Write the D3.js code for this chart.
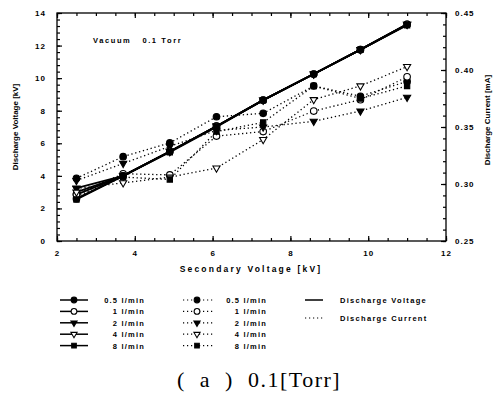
<!DOCTYPE html>
<html>
<head>
<meta charset="utf-8">
<script src="https://cdn.jsdelivr.net/npm/d3@7"></script>
<style>
body { margin: 0; background: #fff; }
svg text { font-family: "Liberation Sans", Arial, sans-serif; font-weight: bold; fill: #000; }
</style>
</head>
<body>
<div id="chart"></div>
<script>
// secondary voltage (x) and flow rates
var sec = [2.5, 3.7, 4.9, 6.1, 7.3, 8.6, 9.8, 11.0];
var flows = ["0.5 l/min", "1 l/min", "2 l/min", "4 l/min", "8 l/min"];
var markers = ["circle", "ocircle", "tri", "otri", "square"];

// discharge voltage [kV] per flow
var volt05 = [2.6, 4.0, 5.5, 7.05, 8.65, 10.25, 11.75, 13.3];
var volt1 = [2.85, 4.0, 5.5, 7.05, 8.65, 10.25, 11.75, 13.3];
var volt2 = [3.25, 4.0, 5.5, 7.05, 8.65, 10.25, 11.75, 13.3];
var volt4 = [3.0, 4.0, 5.5, 7.05, 8.65, 10.25, 11.75, 13.3];
var volt8 = [2.55, 4.0, 5.45, 7.0, 8.65, 10.25, 11.75, 13.25];

// discharge current [mA] per flow
var cur05 = [0.305, 0.324, 0.336, 0.359, 0.362, 0.386, 0.377, 0.390];
var cur1 = [0.291, 0.309, 0.308, 0.342, 0.346, 0.364, 0.374, 0.394];
var cur2 = [0.303, 0.318, 0.333, 0.347, 0.350, 0.355, 0.364, 0.376];
var cur4 = [0.296, 0.301, 0.306, 0.314, 0.339, 0.374, 0.386, 0.403];
var cur8 = [0.289, 0.306, 0.304, 0.346, 0.354, 0.386, 0.375, 0.386];

var xTicks = [2, 4, 6, 8, 10, 12];
var yTicks = [0, 2, 4, 6, 8, 10, 12, 14];
var cTicks = [0.25, 0.30, 0.35, 0.40, 0.45];

var volts = [volt05, volt1, volt2, volt4, volt8];
var curs = [cur05, cur1, cur2, cur4, cur8];

var svg = d3.select("#chart").append("svg")
  .attr("width", 500)
  .attr("height", 394);

var L = 57, R = 446, T = 13, B = 241;

var x = d3.scaleLinear().domain([2, 12]).range([L, R]);
var y = d3.scaleLinear().domain([0, 14]).range([B, T]);
var yc = d3.scaleLinear().domain([0.25, 0.45]).range([B, T]);

// frame
svg.append("rect")
  .attr("x", L).attr("y", T)
  .attr("width", R - L).attr("height", B - T)
  .attr("fill", "none").attr("stroke", "#000").attr("stroke-width", 1.3);

function styleAxis(g) {
  g.select(".domain").remove();
  g.selectAll("line").attr("stroke", "#000").attr("stroke-width", 1.2);
  g.selectAll("text").attr("font-size", 8).attr("letter-spacing", 1);
}

function range(a, b, s) {
  var out = [];
  for (var v = a; v <= b + 1e-9; v += s) out.push(+v.toFixed(4));
  return out;
}

// major axes
svg.append("g").attr("transform", "translate(" + L + ",0)")
  .call(d3.axisLeft(y).tickValues(yTicks).tickSizeInner(-5).tickSizeOuter(0).tickPadding(11).tickFormat(d3.format("d")))
  .call(styleAxis);
svg.append("g").attr("transform", "translate(" + R + ",0)")
  .call(d3.axisRight(yc).tickValues(cTicks).tickSizeInner(-5).tickSizeOuter(0).tickPadding(9).tickFormat(d3.format(".2f")))
  .call(styleAxis);
svg.append("g").attr("transform", "translate(0," + B + ")")
  .call(d3.axisBottom(x).tickValues(xTicks).tickSizeInner(-5).tickSizeOuter(0).tickPadding(9).tickFormat(d3.format("d")))
  .call(styleAxis);
svg.append("g").attr("transform", "translate(0," + T + ")")
  .call(d3.axisTop(x).tickValues(xTicks).tickSizeInner(-5).tickSizeOuter(0).tickFormat(""))
  .call(styleAxis);

// minor ticks
svg.append("g").attr("transform", "translate(" + L + ",0)")
  .call(d3.axisLeft(y).tickValues(range(0, 14, 0.4)).tickSizeInner(-3).tickSizeOuter(0).tickFormat(""))
  .call(styleAxis);
svg.append("g").attr("transform", "translate(" + R + ",0)")
  .call(d3.axisRight(yc).tickValues(range(0.25, 0.45, 0.01)).tickSizeInner(-3).tickSizeOuter(0).tickFormat(""))
  .call(styleAxis);
svg.append("g").attr("transform", "translate(0," + B + ")")
  .call(d3.axisBottom(x).tickValues(range(2, 12, 0.5)).tickSizeInner(-3).tickSizeOuter(0).tickFormat(""))
  .call(styleAxis);
svg.append("g").attr("transform", "translate(0," + T + ")")
  .call(d3.axisTop(x).tickValues(range(2, 12, 0.5)).tickSizeInner(-3).tickSizeOuter(0).tickFormat(""))
  .call(styleAxis);

// axis titles
svg.append("text")
  .attr("transform", "translate(18,127) rotate(-90)")
  .attr("text-anchor", "middle").attr("font-size", 8)
  .text("Discharge Voltage [kV]");
svg.append("text")
  .attr("transform", "translate(490,120) rotate(-90)")
  .attr("text-anchor", "middle").attr("font-size", 8)
  .text("Discharge Current [mA]");
svg.append("text")
  .attr("x", 251).attr("y", 272)
  .attr("text-anchor", "middle").attr("font-size", 8.5).attr("letter-spacing", 2.2)
  .text("Secondary Voltage [kV]");

svg.append("text")
  .attr("x", 93).attr("y", 43)
  .attr("font-size", 7.5).attr("letter-spacing", 1.6)
  .text("Vacuum\u00a0\u00a0\u00a00.1 Torr");

// marker drawing
function marker(g, kind, cx, cy, s) {
  var sym, size, rot = 0;
  s = s || 1;
  if (kind == "circle" || kind == "ocircle") { sym = d3.symbolCircle; size = 34; }
  else if (kind == "tri" || kind == "otri") { sym = d3.symbolTriangle; size = 22; rot = 180; }
  else { sym = d3.symbolSquare; size = 28; }
  var open = kind.charAt(0) == "o";
  g.append("path")
    .attr("d", d3.symbol().type(sym).size(size * s)())
    .attr("transform", "translate(" + cx + "," + cy + ") rotate(" + rot + ")")
    .attr("fill", open ? "#fff" : "#000")
    .attr("stroke", "#000").attr("stroke-width", 1.1);
}

var plot = svg.append("g");

// discharge current, dotted
for (var k = 0; k < curs.length; k++) {
  var cl = d3.line().x(function(d, i) { return x(sec[i]); }).y(function(d) { return yc(d); });
  plot.append("path").datum(curs[k])
    .attr("d", cl).attr("fill", "none")
    .attr("stroke", "#000").attr("stroke-width", 1.3)
    .attr("stroke-dasharray", "1.3,2.7");
}
// discharge voltage, solid
for (var k = 0; k < volts.length; k++) {
  var vl = d3.line().x(function(d, i) { return x(sec[i]); }).y(function(d) { return y(d); });
  plot.append("path").datum(volts[k])
    .attr("d", vl).attr("fill", "none")
    .attr("stroke", "#000").attr("stroke-width", 1.8);
}
for (var k = 0; k < curs.length; k++) {
  for (var i = 0; i < sec.length; i++) {
    marker(plot, markers[k], x(sec[i]), yc(curs[k][i]));
  }
}
for (var k = 0; k < volts.length; k++) {
  for (var i = 0; i < sec.length; i++) {
    marker(plot, markers[k], x(sec[i]), y(volts[k][i]));
  }
}

// legend
var leg = svg.append("g");
for (var k = 0; k < flows.length; k++) {
  var ly = 300 + k * 11.4;
  leg.append("line").attr("x1", 60).attr("x2", 88).attr("y1", ly).attr("y2", ly)
    .attr("stroke", "#000").attr("stroke-width", 1.5);
  marker(leg, markers[k], 74, ly, 0.75);
  leg.append("text").attr("x", 145).attr("y", ly + 3)
    .attr("text-anchor", "end").attr("font-size", 7.5).attr("letter-spacing", 1.2)
    .text(flows[k]);

  leg.append("line").attr("x1", 183).attr("x2", 213).attr("y1", ly).attr("y2", ly)
    .attr("stroke", "#000").attr("stroke-width", 1.2).attr("stroke-dasharray", "1.2,2.8");
  marker(leg, markers[k], 197, ly, 0.75);
  leg.append("text").attr("x", 267).attr("y", ly + 3)
    .attr("text-anchor", "end").attr("font-size", 7.5).attr("letter-spacing", 1.2)
    .text(flows[k]);
}
leg.append("line").attr("x1", 305).attr("x2", 323).attr("y1", 300).attr("y2", 300)
  .attr("stroke", "#000").attr("stroke-width", 1.5);
leg.append("text").attr("x", 340).attr("y", 303)
  .attr("font-size", 7.5).attr("letter-spacing", 1.3).text("Discharge Voltage");
leg.append("line").attr("x1", 305).attr("x2", 323).attr("y1", 318).attr("y2", 318)
  .attr("stroke", "#000").attr("stroke-width", 1.2).attr("stroke-dasharray", "1.2,2.8");
leg.append("text").attr("x", 340).attr("y", 321)
  .attr("font-size", 7.5).attr("letter-spacing", 1.3).text("Discharge Current");

// caption
svg.append("text")
  .attr("x", 177).attr("y", 387)
  .attr("font-size", 22).attr("letter-spacing", 1.5)
  .style("font-family", "'Liberation Serif', 'Times New Roman', serif")
  .style("font-weight", "normal")
  .text("(\u00a0\u00a0a\u00a0\u00a0)\u00a0\u00a00.1[Torr]");
</script>
</body>
</html>
